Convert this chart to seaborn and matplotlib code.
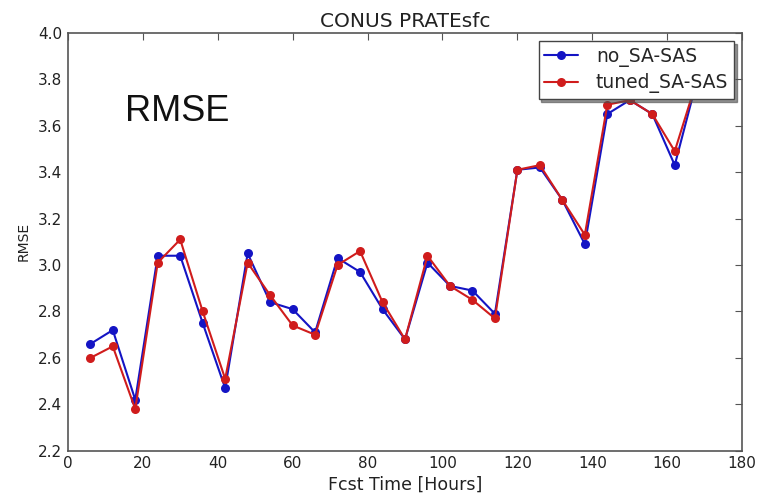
import numpy as np
import pandas as pd
import matplotlib
matplotlib.use("Agg")
import matplotlib.pyplot as plt
import seaborn as sns

fcst_hours = [6, 12, 18, 24, 30, 36, 42, 48, 54, 60, 66, 72, 78, 84, 90, 96,
              102, 108, 114, 120, 126, 132, 138, 144, 150, 156, 162, 168]
no_sa_sas = [2.66, 2.72, 2.42, 3.04, 3.04, 2.75, 2.47, 3.05, 2.84, 2.81, 2.71, 3.03,
             2.97, 2.81, 2.68, 3.01, 2.91, 2.89, 2.79, 3.41, 3.42, 3.28, 3.09, 3.65,
             3.71, 3.65, 3.43, 3.80]
tuned_sa_sas = [2.60, 2.65, 2.38, 3.01, 3.11, 2.80, 2.51, 3.01, 2.87, 2.74, 2.70, 3.00,
                3.06, 2.84, 2.68, 3.04, 2.91, 2.85, 2.77, 3.41, 3.43, 3.28, 3.13, 3.69,
                3.71, 3.65, 3.49, 3.80]
series_names = ["no_SA-SAS", "tuned_SA-SAS"]

df = pd.DataFrame({
    "hours": fcst_hours * 2,
    "rmse": no_sa_sas + tuned_sa_sas,
    "series": [series_names[0]] * len(fcst_hours) + [series_names[1]] * len(fcst_hours),
})

sns.set_style("white")
plt.rcParams["font.family"] = ["DejaVu Sans"]

fig = plt.figure(figsize=(7.62, 4.96), dpi=100)
ax = fig.add_axes([0.089, 0.091, 0.885, 0.843])

palette = {series_names[0]: "#1414c4", series_names[1]: "#d01c1c"}
sns.lineplot(data=df, x="hours", y="rmse", hue="series", palette=palette,
             marker="o", markersize=6.5, markeredgewidth=0, linewidth=1.5,
             ax=ax, legend=True)

ax.set_xlim(0, 180)
ax.set_ylim(2.2, 4.0)
ax.set_xticks(np.arange(0, 181, 20))
ax.set_yticks(np.arange(2.2, 4.01, 0.2))
ax.set_yticklabels([f"{v:.1f}" for v in np.arange(2.2, 4.01, 0.2)])
ax.tick_params(direction="in", length=5, width=0.8, top=True, right=True,
               labelsize=11, pad=4, colors="#555555", labelcolor="#222222")
for s in ax.spines.values():
    s.set_color("#555555")
    s.set_linewidth(1.2)

ax.set_title("CONUS PRATEsfc", fontsize=14.5, color="#222222", pad=4)
ax.set_xlabel("Fcst Time [Hours]", fontsize=12.5, color="#222222", labelpad=3)
ax.set_ylabel("RMSE", fontsize=10, color="#222222", labelpad=5)

ax.text(0.085, 0.79, "RMSE", transform=ax.transAxes, fontsize=26,
        family=["Liberation Sans", "DejaVu Sans"], color="#111111")

leg = ax.legend(loc="upper right", fontsize=13.5, frameon=True, fancybox=False,
                shadow={"ox": 2, "oy": -2, "alpha": 0.6}, framealpha=1,
                borderaxespad=0.45, handlelength=1.8, handletextpad=0.95,
                borderpad=0.3, labelspacing=0.35)
leg.get_frame().set_edgecolor("#444444")
leg.get_frame().set_linewidth(1.0)
leg.set_zorder(10)

fig.savefig("out.png", dpi=100)
